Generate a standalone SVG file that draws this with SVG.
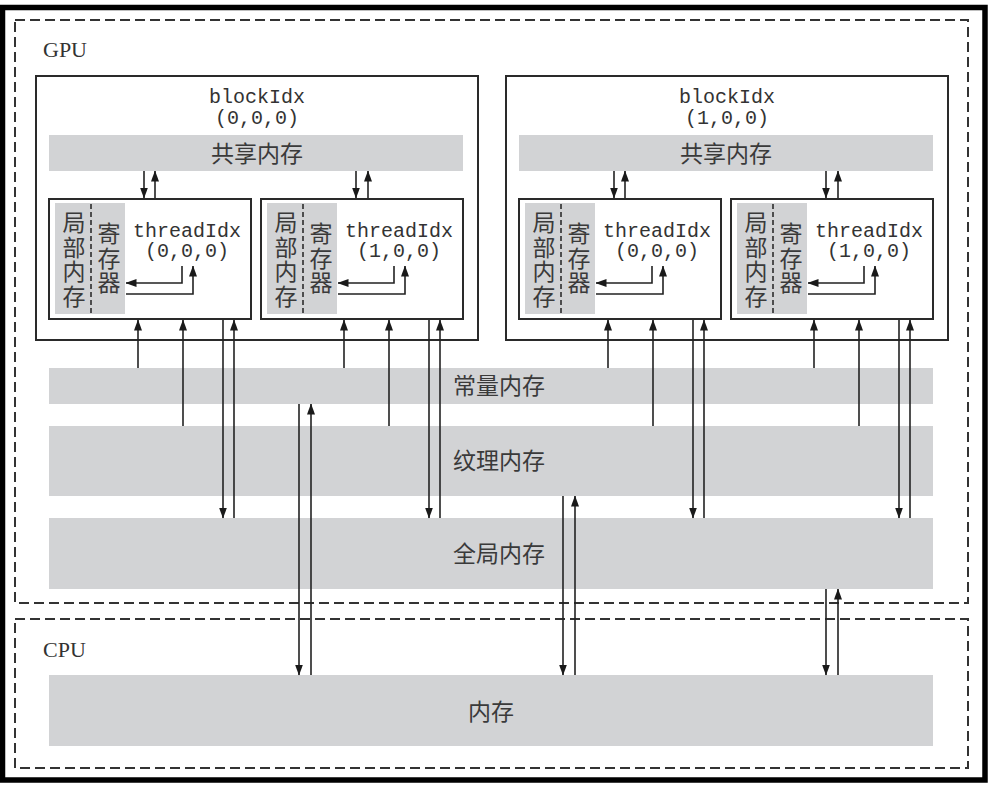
<svg xmlns="http://www.w3.org/2000/svg" width="991" height="787" viewBox="0 0 991 787">
<style>
.frame{fill:none;stroke:#000;stroke-width:5.5}
.dash{fill:none;stroke:#333;stroke-width:2;stroke-dasharray:10 5}
.band{fill:#d2d3d5}
.box{fill:#fff;stroke:#2a2a2a;stroke-width:2}
.div{stroke:#222;stroke-width:1.5;stroke-dasharray:5 3}
.cjk{font-family:"Noto Sans CJK SC","Noto Sans",sans-serif;font-size:23px;fill:#3a3a3a}
.mono{font-family:"Liberation Mono","DejaVu Sans Mono",monospace;font-size:20px;fill:#333;text-anchor:middle}
.lbl{font-family:"Liberation Serif","Times New Roman",serif;font-size:22px;fill:#333}
.mid{text-anchor:middle}
.ar{fill:none;stroke:#222;stroke-width:1.6;marker-end:url(#ah)}
</style>
<defs>
<marker id="ah" markerUnits="userSpaceOnUse" markerWidth="11" markerHeight="8" viewBox="0 0 11 8" refX="10.5" refY="4" orient="auto">
<path d="M0,0 L11,4 L0,8 z" fill="#1a1a1a"/>
</marker>
<g id="threadTpl">
<rect class="box" x="49" y="199" width="202" height="120"/>
<rect class="band" x="55" y="203" width="70" height="111"/>
<line class="div" x1="91" y1="204" x2="91" y2="314"/>
<text class="cjk mid" x="74" y="231">局</text>
<text class="cjk mid" x="74" y="255.5">部</text>
<text class="cjk mid" x="74" y="280">内</text>
<text class="cjk mid" x="74" y="304.5">存</text>
<text class="cjk mid" x="109" y="242">寄</text>
<text class="cjk mid" x="109" y="267">存</text>
<text class="cjk mid" x="109" y="291">器</text>
<text class="mono" x="187" y="237">threadIdx</text>
<path class="ar" d="M182,266 V283 H126"/>
<path class="ar" d="M126,294 H193 V266"/>
</g>
</defs>
<rect width="991" height="787" fill="#fff"/>
<rect class="frame" x="2.5" y="7.5" width="982.5" height="772.5"/>

<g id="gpu">
<rect class="dash" x="15" y="20" width="953" height="583"/>
<text class="lbl" x="43" y="57">GPU</text>
</g>
<g id="cpu">
<rect class="dash" x="15" y="619" width="953" height="149"/>
<text class="lbl" x="43" y="657">CPU</text>
</g>

<g id="block0">
<rect class="box" x="36" y="76" width="442" height="264"/>
<text class="mono" x="257" y="103">blockIdx</text>
<text class="mono" x="257" y="124">(0,0,0)</text>
</g>
<g id="block1">
<rect class="box" x="506" y="76" width="442" height="264"/>
<text class="mono" x="727" y="103">blockIdx</text>
<text class="mono" x="727" y="124">(1,0,0)</text>
</g>
<g id="shared0">
<rect class="band" x="49" y="135" width="414" height="36"/>
<text class="cjk mid" x="257" y="161.5">共享内存</text>
</g>
<g id="shared1">
<rect class="band" x="519" y="135" width="414" height="36"/>
<text class="cjk mid" x="726" y="161.5">共享内存</text>
</g>

<g id="thread00">
<use href="#threadTpl"/>
<text class="mono" x="187" y="257">(0,0,0)</text>
</g>
<g id="thread01" transform="translate(212,0)">
<use href="#threadTpl"/>
<text class="mono" x="187" y="257">(1,0,0)</text>
</g>
<g id="thread10" transform="translate(470,0)">
<use href="#threadTpl"/>
<text class="mono" x="187" y="257">(0,0,0)</text>
</g>
<g id="thread11" transform="translate(682,0)">
<use href="#threadTpl"/>
<text class="mono" x="187" y="257">(1,0,0)</text>
</g>

<g id="constant">
<rect class="band" x="49" y="368" width="884" height="36"/>
<text class="cjk mid" x="499" y="394">常量内存</text>
</g>
<g id="texture">
<rect class="band" x="49" y="426" width="884" height="70"/>
<text class="cjk mid" x="499" y="469">纹理内存</text>
</g>
<g id="global">
<rect class="band" x="49" y="518" width="884" height="71"/>
<text class="cjk mid" x="499" y="561.5">全局内存</text>
</g>
<g id="hostmem">
<rect class="band" x="49" y="675" width="884" height="71"/>
<text class="cjk mid" x="491" y="719.5">内存</text>
</g>

<g id="connectors">
<path class="ar" d="M144,171 V198"/>
<path class="ar" d="M155,198 V171"/>
<path class="ar" d="M356,171 V198"/>
<path class="ar" d="M368,198 V171"/>
<path class="ar" d="M614,171 V198"/>
<path class="ar" d="M625,198 V171"/>
<path class="ar" d="M826,171 V198"/>
<path class="ar" d="M838,198 V171"/>

<path class="ar" d="M138,368 V320"/>
<path class="ar" d="M183,426 V320"/>
<path class="ar" d="M223,320 V518"/>
<path class="ar" d="M234,518 V320"/>
<path class="ar" d="M344,368 V320"/>
<path class="ar" d="M389,426 V320"/>
<path class="ar" d="M429,320 V518"/>
<path class="ar" d="M440,518 V320"/>
<path class="ar" d="M608,368 V320"/>
<path class="ar" d="M653,426 V320"/>
<path class="ar" d="M693,320 V518"/>
<path class="ar" d="M704,518 V320"/>
<path class="ar" d="M814,368 V320"/>
<path class="ar" d="M859,426 V320"/>
<path class="ar" d="M899,320 V518"/>
<path class="ar" d="M910,518 V320"/>

<path class="ar" d="M299,404 V675"/>
<path class="ar" d="M311,675 V404"/>
<path class="ar" d="M563,496 V675"/>
<path class="ar" d="M575,675 V496"/>
<path class="ar" d="M826,589 V675"/>
<path class="ar" d="M838,675 V589"/>
</g>
</svg>
